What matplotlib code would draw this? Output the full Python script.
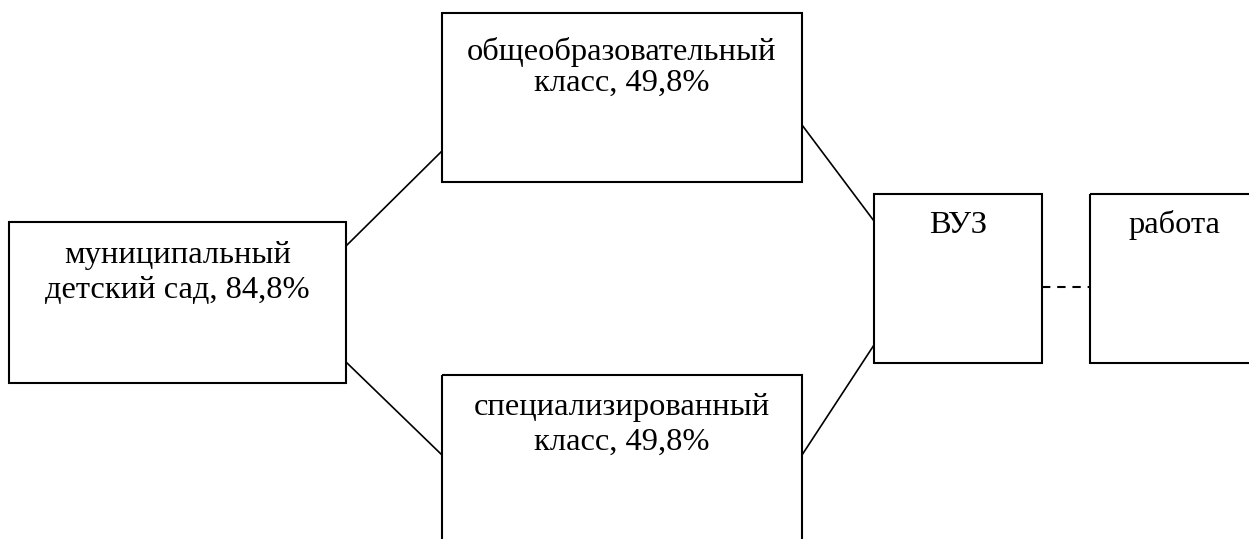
import matplotlib
matplotlib.use("Agg")
import matplotlib.pyplot as plt
from matplotlib.patches import Rectangle

# ---- content ----
stages = ["муниципальный\nдетский сад", "общеобразовательный\nкласс", "специализированный\nкласс", "ВУЗ", "работа"]
shares = ["84,8%", "49,8%", "49,8%", None, None]

# ---- layout (pixel coordinates, y downward) ----
boxes = [
    (9, 222, 346, 383),
    (442, 13, 802, 182),
    (442, 375, 802, 560),
    (874, 194, 1042, 363),
    (1090, 194, 1258, 363),
]
baselines = [
    [263, 298],
    [60, 91],
    [415, 450],
    [233],
    [233],
]
links = [
    ((346, 246), (442, 151)),
    ((346, 362), (442, 455)),
    ((802, 125), (874, 221)),
    ((802, 455), (874, 345)),
]
dashed = ((1042, 287), (1090, 287))

W, H = 1249, 539
fig = plt.figure(figsize=(W / 100, H / 100), dpi=100)
ax = fig.add_axes([0, 0, 1, 1])
ax.set_xlim(0, W)
ax.set_ylim(H, 0)
ax.axis("off")

font = dict(family=["Liberation Serif", "DejaVu Serif"], fontsize=23.4, color="black")

for i, (x0, y0, x1, y1) in enumerate(boxes):
    ax.add_patch(Rectangle((x0, y0), x1 - x0, y1 - y0, fill=False,
                           edgecolor="black", linewidth=1.5, clip_on=True))
    lines = stages[i].split("\n")
    if shares[i]:
        lines[-1] = lines[-1] + ", " + shares[i]
    cx = (x0 + x1) / 2
    for txt, by in zip(lines, baselines[i]):
        ax.text(cx, by, txt, ha="center", va="baseline", **font)

for (a, b) in links:
    ax.plot([a[0], b[0]], [a[1], b[1]], color="black", linewidth=1.2,
            solid_capstyle="butt")

l, = ax.plot([dashed[0][0], dashed[1][0]], [dashed[0][1], dashed[1][1]],
             color="black", linewidth=1.5)
l.set_dashes((4, 3.3))

fig.savefig("out.png", dpi=100, facecolor="white")
